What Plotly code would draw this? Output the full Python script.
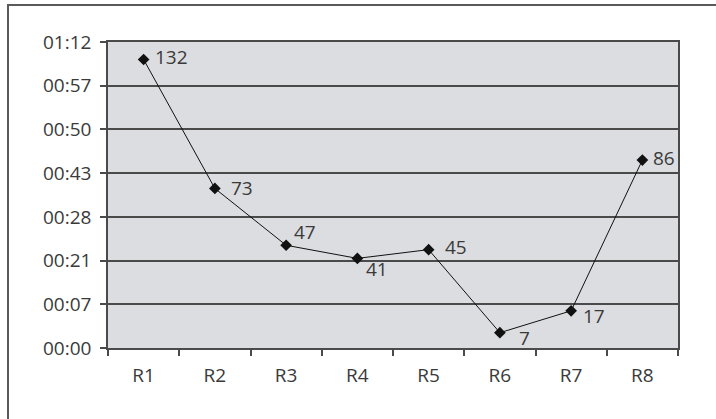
import plotly.graph_objects as go

# Rounds and measured values
rounds = ["R1", "R2", "R3", "R4", "R5", "R6", "R7", "R8"]
values = [132, 73, 47, 41, 45, 7, 17, 86]

# Y axis ticks and their time labels
y_ticks = [0, 20, 40, 60, 80, 100, 120, 140]
y_tick_text = ["00:00", "00:07", "00:21", "00:28", "00:43", "00:50", "00:57", "01:12"]

# Label offsets (pixels) for each point's value label
label_dx = [9, 14, 6, 7, 14, 17, 10, 9]
label_dy = [2, 0, 13, -11, 3, -5, -5, 2]

W, H = 716, 419
ML, MR, MT, MB = 108, 38, 42, 71
PW, PH = W - ML - MR, H - MT - MB

FONT = "'Open Sans', 'Noto Sans', sans-serif"
FSIZE = 19
TXT = "#3a3a3a"
GRID = "#4a4a4a"

fig = go.Figure()
fig.add_trace(go.Scatter(
    x=rounds, y=values, mode="lines+markers",
    line=dict(color="#111111", width=1),
    marker=dict(symbol="diamond", size=9, color="#111111"),
    hoverinfo="x+y", showlegend=False,
))

annotations = []
for r, v, dx, dy in zip(rounds, values, label_dx, label_dy):
    annotations.append(dict(
        x=r, y=v, xref="x", yref="y", text=str(v), showarrow=False,
        xanchor="left", yanchor="middle", xshift=dx, yshift=dy,
        font=dict(family=FONT, size=FSIZE, color=TXT),
    ))

# Outer frame around the chart
fx0 = (8 - ML) / PW
fx1 = (W + 10 - ML) / PW
fy1 = (MT + PH - 5) / PH
fy0 = (MT + PH - (H + 10)) / PH

fig.update_layout(
    width=W, height=H,
    margin=dict(l=ML, r=MR, t=MT, b=MB),
    paper_bgcolor="white",
    plot_bgcolor="#dcdde0",
    annotations=annotations,
    shapes=[dict(type="rect", xref="paper", yref="paper",
                 x0=fx0, x1=fx1, y0=fy0, y1=fy1,
                 line=dict(color="#5a5a5a", width=2), layer="below")],
    xaxis=dict(
        type="category", tickson="boundaries",
        ticks="outside", ticklen=6, tickcolor=GRID, tickwidth=1.5,
        showgrid=False, showline=True, linecolor=GRID, linewidth=1.5, mirror=True,
        tickfont=dict(family=FONT, size=FSIZE, color=TXT),
        ticklabelstandoff=9,
        range=[-0.5, 7.5],
    ),
    yaxis=dict(
        range=[0, 140], tickvals=y_ticks, ticktext=y_tick_text,
        ticks="outside", ticklen=6, tickcolor=GRID, tickwidth=1.5,
        showgrid=True, gridcolor=GRID, gridwidth=1.5,
        showline=True, linecolor=GRID, linewidth=1.5, mirror=True,
        zeroline=False,
        tickfont=dict(family=FONT, size=FSIZE, color=TXT),
        ticklabelstandoff=5,
    ),
)

fig.write_html("out.html")
